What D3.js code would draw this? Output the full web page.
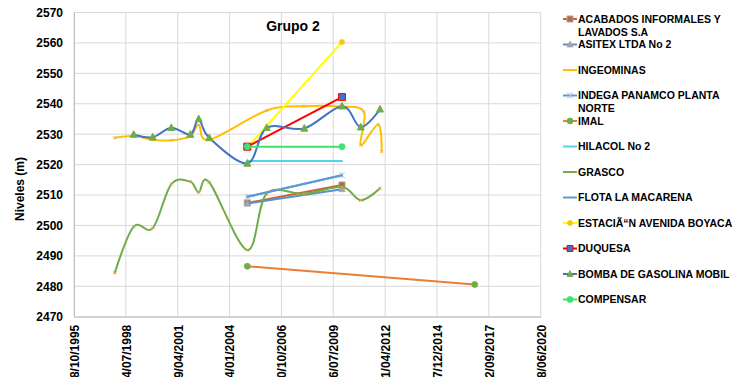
<!DOCTYPE html>
<html>
<head>
<meta charset="utf-8">
<script src="https://cdn.jsdelivr.net/npm/d3@7"></script>
<style>
  body { margin: 0; background: #fff; }
  svg text { font-family: Arial, "Liberation Sans", sans-serif; font-weight: bold; fill: #000; }
</style>
</head>
<body>
<svg id="chart" width="736" height="377"></svg>
<script>
// Axis ticks
const dateTickLabels = ["28/10/1995", "24/07/1998", "19/04/2001", "14/01/2004", "10/10/2006",
                        "06/07/2009", "01/04/2012", "27/12/2014", "22/09/2017", "18/06/2020"];
const levelTicks = [2470, 2480, 2490, 2500, 2510, 2520, 2530, 2540, 2550, 2560, 2570];

// Series names (legend order)
const seriesNames = ["ACABADOS INFORMALES Y LAVADOS S.A", "ASITEX LTDA No 2", "INGEOMINAS",
  "INDEGA PANAMCO PLANTA NORTE", "IMAL", "HILACOL No 2", "GRASCO", "FLOTA LA MACARENA",
  "ESTACIÃ“N AVENIDA BOYACA", "DUQUESA", "BOMBA DE GASOLINA MOBIL", "COMPENSAR"];

// Measurement dates and water levels (m) for each well
const acabadosDates = ["2004-12-21", "2009-12-21"];
const acabadosLevels = [2507.4, 2513.3];

const asitexDates = ["2004-12-21", "2009-12-21"];
const asitexLevels = [2507.2, 2511.9];

const ingeominasDates = ["1997-12-21", "1998-12-22", "1999-12-24", "2000-12-16", "2001-12-18",
  "2002-05-29", "2002-12-19", "2005-12-30", "2007-12-25", "2009-12-21", "2011-02-19",
  "2010-12-17", "2011-11-21", "2012-01-26"];
const ingeominasLevels = [2528.8, 2529.4, 2528.2, 2528.0, 2529.4, 2533.0, 2528.2, 2537.8,
  2539.2, 2539.1, 2537.3, 2526.4, 2533.2, 2524.3];

const indegaDates = ["2004-12-21", "2009-12-21"];
const indegaLevels = [2509.4, 2516.5];

const imalDates = ["2004-12-21", "2016-12-23"];
const imalLevels = [2486.6, 2480.6];

const hilacolDates = ["2004-12-21", "2009-12-21"];
const hilacolLevels = [2521.2, 2521.2];

const grascoDates = ["1997-12-21", "1998-12-22", "1999-12-24", "2000-12-16", "2001-12-18",
  "2002-05-29", "2002-12-19", "2004-12-21", "2005-12-30", "2007-12-25", "2009-12-21",
  "2010-12-17", "2011-12-24"];
const grascoLevels = [2484.4, 2499.6, 2499.1, 2513.6, 2514.4, 2510.9, 2514.2, 2491.9,
  2510.5, 2510.4, 2512.6, 2508.3, 2512.2];

const flotaDates = ["2004-12-21", "2009-12-21"];
const flotaLevels = [2509.4, 2516.5];

const estacionDates = ["2004-12-21", "2009-12-21"];
const estacionLevels = [2525.6, 2560.3];

const duquesaDates = ["2004-12-21", "2009-12-21"];
const duquesaLevels = [2525.9, 2542.2];

const bombaDates = ["1998-12-22", "1999-12-24", "2000-12-16", "2001-12-18", "2002-05-29",
  "2002-12-19", "2004-12-21", "2005-12-30", "2007-12-25", "2009-12-21", "2010-12-17", "2011-12-24"];
const bombaLevels = [2529.9, 2529.0, 2532.1, 2529.9, 2535.0, 2528.8, 2520.4, 2532.1,
  2531.9, 2539.2, 2532.3, 2538.2];

const compensarDates = ["2004-12-21", "2009-12-21"];
const compensarLevels = [2525.9, 2525.9];

// Drawing styles for each series, in legend order
const styles = [
  { color: "#c8632c", width: 2, smooth: false, marker: "square", mFill: "#b8693f", mStroke: "#a5a5a5", mSize: 6 },
  { color: "#5b8fd2", width: 2, smooth: false, marker: "triangle", mFill: "#a5a5a5", mStroke: "#a5a5a5", mSize: 6 },
  { color: "#ffc000", width: 2, smooth: true, marker: "tick", mFill: "none", mStroke: "#f2b43a", mSize: 3 },
  { color: "#5b9bd5", width: 2, smooth: false, marker: "star", mFill: "none", mStroke: "#a9c4eb", mSize: 6 },
  { color: "#ed7d31", width: 2, smooth: false, marker: "circle", mFill: "#70ad47", mStroke: "#70ad47", mSize: 6 },
  { color: "#4fd5ef", width: 2, smooth: false, marker: "none", mFill: "none", mStroke: "#4fd5ef", mSize: 5 },
  { color: "#70ad47", width: 2, smooth: true, marker: "tick", mFill: "none", mStroke: "#ed9a4a", mSize: 3 },
  { color: "#5b9bd5", width: 2, smooth: false, marker: "none", mFill: "none", mStroke: "none", mSize: 0 },
  { color: "#ffff00", width: 2, smooth: false, marker: "circle", mFill: "#f5c518", mStroke: "#f5c518", mSize: 5 },
  { color: "#ff0000", width: 2, smooth: false, marker: "square", mFill: "#4472c4", mStroke: "#ff0000", mSize: 7 },
  { color: "#4472c4", width: 2, smooth: true, marker: "triangle", mFill: "#70ad47", mStroke: "#70ad47", mSize: 7 },
  { color: "#3fe26b", width: 2, smooth: false, marker: "circle", mFill: "#3fe26b", mStroke: "#3fe26b", mSize: 6 }
];

const dateLists = [acabadosDates, asitexDates, ingeominasDates, indegaDates, imalDates, hilacolDates,
  grascoDates, flotaDates, estacionDates, duquesaDates, bombaDates, compensarDates];
const levelLists = [acabadosLevels, asitexLevels, ingeominasLevels, indegaLevels, imalLevels, hilacolLevels,
  grascoLevels, flotaLevels, estacionLevels, duquesaLevels, bombaLevels, compensarLevels];

const parseIso = d3.utcParse("%Y-%m-%d");
const parseDmy = d3.utcParse("%d/%m/%Y");
const fmtDmy = d3.utcFormat("%d/%m/%Y");

const series = seriesNames.map((name, i) => ({
  name,
  style: styles[i],
  points: dateLists[i].map((d, j) => ({ date: parseIso(d), level: levelLists[i][j] }))
}));

const plot = { left: 74, right: 540.7, top: 12.5, bottom: 316.7 };
const tickDates = dateTickLabels.map(parseDmy);

const x = d3.scaleUtc()
  .domain([tickDates[0], tickDates[tickDates.length - 1]])
  .range([plot.left, plot.right]);
const y = d3.scaleLinear()
  .domain([levelTicks[0], levelTicks[levelTicks.length - 1]])
  .range([plot.bottom, plot.top]);

const svg = d3.select("#chart");

svg.append("defs").append("clipPath").attr("id", "plotClip")
  .append("rect")
  .attr("x", plot.left).attr("y", plot.top - 4)
  .attr("width", plot.right - plot.left + 4).attr("height", plot.bottom - plot.top + 4);

// Gridlines
const grid = svg.append("g").attr("stroke", "#d9d9d9").attr("stroke-width", 1);
grid.selectAll("line.h").data(levelTicks).join("line")
  .attr("class", "h")
  .attr("x1", plot.left).attr("x2", plot.right)
  .attr("y1", d => y(d)).attr("y2", d => y(d));
grid.selectAll("line.v").data(tickDates).join("line")
  .attr("class", "v")
  .attr("x1", d => x(d)).attr("x2", d => x(d))
  .attr("y1", plot.top).attr("y2", plot.bottom);

// Axes
const yAxis = svg.append("g")
  .attr("transform", `translate(${plot.left},0)`)
  .call(d3.axisLeft(y).tickValues(levelTicks).tickFormat(d3.format("d")).tickSize(0).tickPadding(11));
yAxis.select(".domain").attr("stroke", "#bfbfbf");
yAxis.selectAll("text").attr("font-size", 12);

const xAxis = svg.append("g")
  .attr("transform", `translate(0,${plot.bottom})`)
  .call(d3.axisBottom(x).tickValues(tickDates).tickFormat(fmtDmy).tickSize(0));
xAxis.select(".domain").attr("stroke", "#bfbfbf");
xAxis.selectAll("text")
  .attr("font-size", 12)
  .attr("text-anchor", "end")
  .attr("transform", "rotate(-90)")
  .attr("x", -8)
  .attr("y", 0)
  .attr("dy", "0.36em");

svg.selectAll(".tick text").attr("font-family", 'Arial, "Liberation Sans", sans-serif').attr("font-weight", "bold").attr("fill", "#000");

// Axis title and chart title
svg.append("text")
  .attr("transform", "translate(24,189) rotate(-90)")
  .attr("text-anchor", "middle")
  .attr("font-size", 12)
  .text("Niveles (m)");

svg.append("text")
  .attr("x", 293).attr("y", 31)
  .attr("text-anchor", "middle")
  .attr("font-size", 14)
  .text("Grupo 2");

// Marker shapes
function markerPath(type, s) {
  const h = s / 2;
  switch (type) {
    case "square": return `M${-h},${-h}H${h}V${h}H${-h}Z`;
    case "triangle": return `M0,${-h * 1.1}L${h},${h * 0.8}L${-h},${h * 0.8}Z`;
    case "star": return `M${-h},${-h}L${h},${h}M${-h},${h}L${h},${-h}M0,${-h}V${h}`;
    case "tick": return `M${-h},${-h}L${h},${h}M${-h},${h}L${h},${-h}`;
    case "plus": return `M${-h},0H${h}M0,${-h}V${h}`;
    default: return "";
  }
}

function drawMarkers(g, pts, st, px, py) {
  if (st.marker === "none") return;
  pts.forEach(p => {
    const cx = px(p), cy = py(p);
    if (st.marker === "circle") {
      g.append("circle").attr("cx", cx).attr("cy", cy).attr("r", st.mSize / 2)
        .attr("fill", st.mFill).attr("stroke", st.mStroke).attr("stroke-width", 0.8);
    } else {
      g.append("path").attr("d", markerPath(st.marker, st.mSize))
        .attr("transform", `translate(${cx},${cy})`)
        .attr("fill", st.mFill).attr("stroke", st.mStroke).attr("stroke-width", 1);
    }
  });
}

// Series lines and markers
const plotG = svg.append("g").attr("clip-path", "url(#plotClip)");
series.forEach(s => {
  const st = s.style;
  const line = d3.line()
    .x(p => x(p.date))
    .y(p => y(p.level))
    .curve(st.smooth ? d3.curveCardinal.tension(0) : d3.curveLinear);
  const g = plotG.append("g");
  g.append("path").datum(s.points)
    .attr("d", line)
    .attr("fill", "none")
    .attr("stroke", st.color)
    .attr("stroke-width", st.width)
    .attr("stroke-linejoin", "round")
    .attr("stroke-linecap", "round");
  drawMarkers(g, s.points, st, p => x(p.date), p => y(p.level));
});

// Legend
const legend = svg.append("g").attr("font-size", 10.5);
const maxTextWidth = 160;
seriesNames.forEach((name, i) => {
  const st = styles[i];
  const cy = 19 + i * 25.5;
  const item = legend.append("g");
  item.append("line")
    .attr("x1", 563).attr("x2", 577).attr("y1", cy).attr("y2", cy)
    .attr("stroke", st.color).attr("stroke-width", 2);
  if (st.marker !== "none" && st.marker !== "tick") {
    drawMarkers(item, [{}], Object.assign({}, st, { mSize: Math.min(st.mSize, 6) }), () => 570, () => cy);
  }
  // wrap long names onto a second line
  const words = name.split(" ");
  const t = item.append("text").attr("x", 578).attr("y", cy).attr("dy", "0.36em");
  let lineNo = 0;
  let span = t.append("tspan").attr("x", 578).attr("y", cy).attr("dy", "0.36em");
  let current = [];
  words.forEach(w => {
    current.push(w);
    span.text(current.join(" "));
    if (span.node().getComputedTextLength() > maxTextWidth && current.length > 1) {
      current.pop();
      span.text(current.join(" "));
      current = [w];
      lineNo += 1;
      span = t.append("tspan").attr("x", 578).attr("y", cy + lineNo * 13).attr("dy", "0.36em").text(w);
    }
  });
});
</script>
</body>
</html>
